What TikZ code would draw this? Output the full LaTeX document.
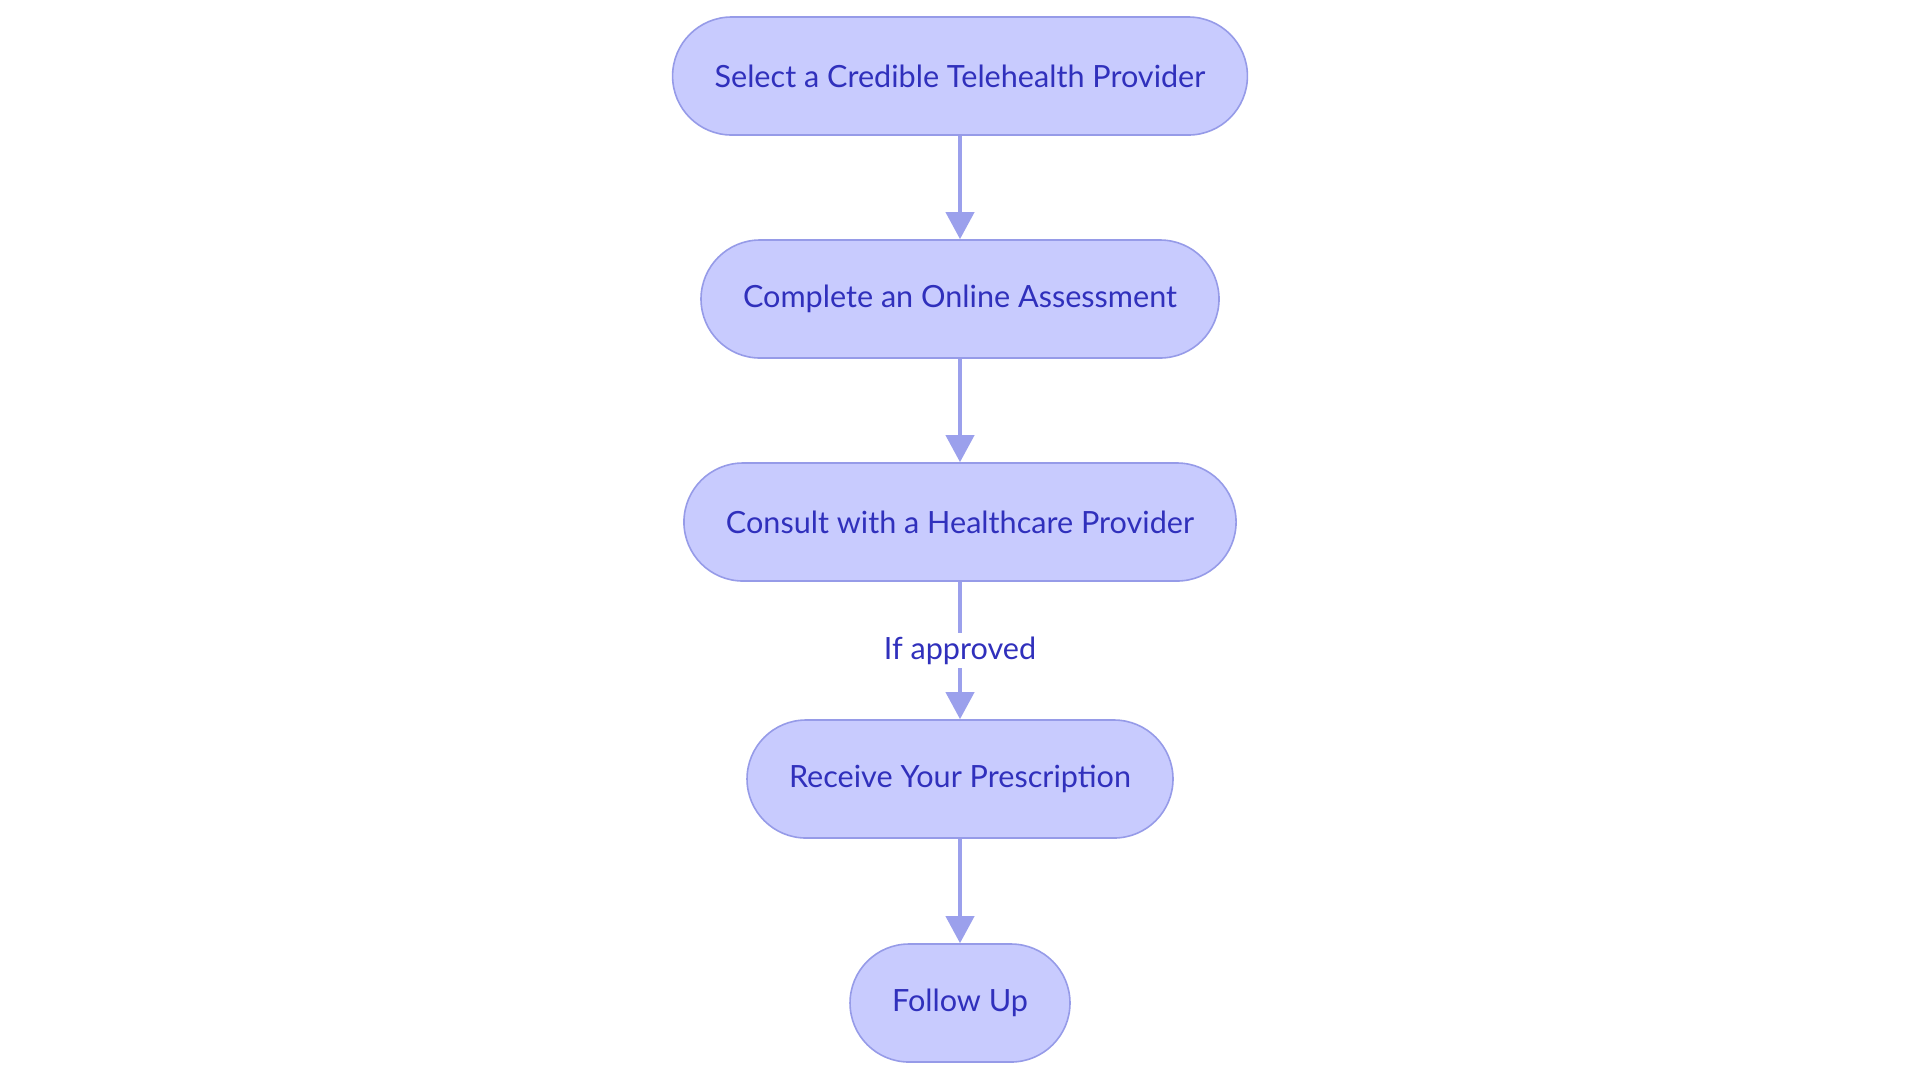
\documentclass[tikz,border=0pt]{standalone}
\usepackage{fontspec}
\setmainfont{Lato}
\usetikzlibrary{arrows.meta}
\definecolor{stepfill}{RGB}{200,203,254}
\definecolor{stepline}{RGB}{150,155,232}
\definecolor{steptext}{RGB}{48,48,188}
\definecolor{arrowline}{RGB}{155,160,236}
\begin{document}
\begin{tikzpicture}[x=0.5pt, y=-0.5pt]
      \useasboundingbox (0,0) rectangle (1920,1083);
      \tikzstyle{every node}=[rectangle, rounded corners=29.5pt, draw=stepline, line width=0.8pt,
        fill=stepfill, text=steptext, font=\fontsize{15.3}{18}\selectfont,
        minimum height=59pt, inner xsep=21pt]
      \tikzstyle{flow}=[arrowline, line width=2pt, -{Triangle[width=14pt, length=13.5pt]}]
      \foreach \i/\y/\t in {1/76/Select a Credible Telehealth Provider,
                            2/299/Complete an Online Assessment,
                            3/522/Consult with a Healthcare Provider,
                            4/779/Receive Your Prescription,
                            5/1003/Follow Up}
      {
        \path (960, \y) node (s\i) {\t};
      }

      \foreach \i/\j in {1/2, 2/3, 4/5}
      {
        \draw [flow] (s\i) -- (s\j);
      }

      \draw [flow]
        (s3) -- node [draw=none, fill=white, rounded corners=0pt, minimum height=0pt,
          inner sep=2pt, pos=0.5] (ok) {If approved} (s4);
    \end{tikzpicture}
\end{document}
